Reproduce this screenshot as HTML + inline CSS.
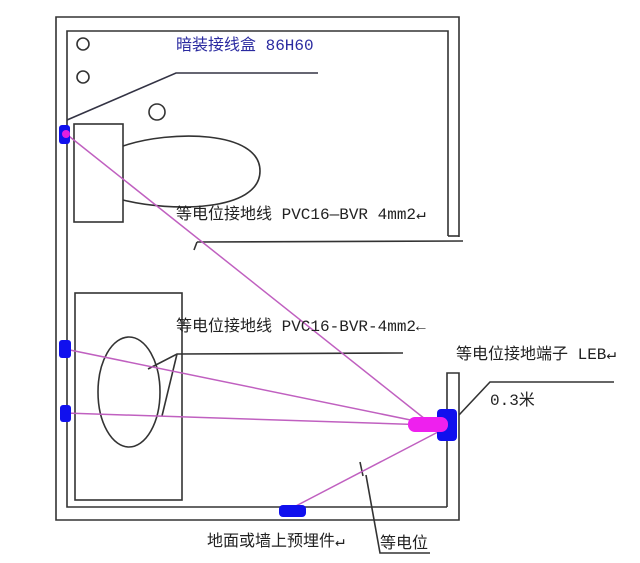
<!DOCTYPE html>
<html><head><meta charset="utf-8"><style>
html,body{margin:0;padding:0;background:#fff;}
svg{display:block;}
text{font-family:"Liberation Mono","Noto Sans CJK SC",monospace;}
</style></head><body>
<svg width="640" height="563" viewBox="0 0 640 563" xmlns="http://www.w3.org/2000/svg">
<g fill="none" stroke="#333" stroke-width="1.6">
<polyline points="459,237 459,17 56,17 56,520 459,520 459,373 447,373 447,507"/>
<polyline points="448,236 448,31 67,31 67,507 447,507"/>
<line x1="448" y1="236" x2="459" y2="236"/>
<circle cx="83" cy="44" r="6"/>
<circle cx="83" cy="77" r="6"/>
<circle cx="157" cy="112" r="8"/>
<rect x="74" y="124" width="49" height="98"/>
<path d="M123,146 C170,130 260,130 260,171 C260,212 170,212 123,200"/>
<rect x="75" y="293" width="107" height="207"/>
<ellipse cx="129" cy="392" rx="31" ry="55"/>
<line x1="197" y1="242" x2="463" y2="241"/>
<line x1="197" y1="242" x2="194" y2="250"/>
<polyline points="148,369 177,354 403,353"/>
<line x1="177" y1="354" x2="162" y2="416"/>
<polyline points="459,415 490,382 614,382"/>
<polyline points="366,475 380,553 430,553"/>
<line x1="360" y1="462" x2="363" y2="476"/>
</g>
<polyline points="67,120 176,73 318,73" fill="none" stroke="#334" stroke-width="1.6"/>
<g stroke="#c060c0" stroke-width="1.5" fill="none">
<line x1="65" y1="133" x2="430" y2="423"/>
<line x1="65" y1="349" x2="430" y2="424"/>
<line x1="65" y1="413" x2="430" y2="425"/>
<line x1="292" y1="508" x2="438" y2="432"/>
</g>
<g fill="#1010ee">
<rect x="59" y="125" width="11" height="19" rx="3"/>
<rect x="59" y="340" width="12" height="18" rx="3"/>
<rect x="60" y="405" width="11" height="17" rx="3"/>
<rect x="279" y="505" width="27" height="12" rx="4"/>
<rect x="437" y="409" width="20" height="32" rx="4"/>
</g>
<circle cx="66" cy="134" r="4" fill="#e020e0"/>
<rect x="408" y="417" width="40" height="15" rx="7" fill="#ee20ee"/>
<text x="176" y="50" font-size="16" fill="#2a2aa0">暗装接线盒 86H60</text>
<text x="176" y="219" font-size="16" fill="#222">等电位接地线 PVC16—BVR 4mm2↵</text>
<text x="176" y="331" font-size="16" fill="#222">等电位接地线 PVC16-BVR-4mm2←</text>
<text x="456" y="359" font-size="16" fill="#222">等电位接地端子 LEB↵</text>
<text x="490" y="405" font-size="16" fill="#222">0.3米</text>
<text x="207" y="546" font-size="16" fill="#222">地面或墙上预埋件↵</text>
<text x="380" y="548" font-size="16" fill="#222">等电位</text>
</svg>
</body></html>
